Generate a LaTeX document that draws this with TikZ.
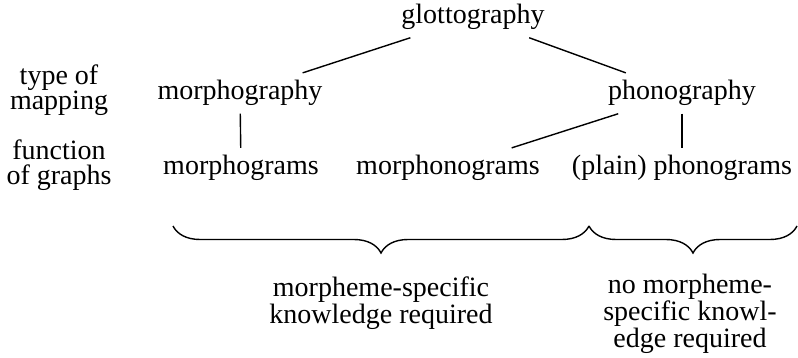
\documentclass[tikz,border=0pt]{standalone}
\usepackage{fontspec}
\setmainfont{Liberation Serif}
\usetikzlibrary{decorations.pathreplacing}

\begin{document}
\begin{tikzpicture}[
            x = 1pt, y = -1pt, % pixel grid, y going down
            line width = 1.4pt,
            every node/.style = {
                font = \fontsize{28}{25}\selectfont,
                anchor = base, % nodes sit on the baseline of their last line
                inner sep = 7pt
            },
            brace/.style = {decorate, decoration = {brace, mirror, amplitude = 27pt}}
        ]
        \useasboundingbox (0,0) rectangle (798,358);

        % side labels
        \node[align = center] (maplbl) at (59,110) {type of\\mapping};
        \node[align = center] (graphlbl) at (59,185) {function\\of graphs};

        % tree
        \node (glot) at (473,24) {glottography};
        \node (morphy) at (240,100) {morphography};
        \node (phony) at (682,100) {phonography};
        \node (morphgr) at (241,175) {morphograms};
        \node (morphon) at (448,175) {morphonograms};
        \node (phongr) at (682,175) {(plain) phonograms};

        \draw (glot) -- (morphy);
        \draw (glot) -- (phony);
        \draw (morphy) -- (morphgr);
        \draw (phony) -- (morphon);
        \draw (phony) -- (phongr);

        % braces
        \coordinate (b1) at (173,226);
        \coordinate (b2) at (589,226);
        \coordinate (b3) at (797,226);
        \draw[brace] (b1) -- (b2);
        \draw[brace] (b2) -- (b3);

        \node[align = center] (known) at (381,323) {morpheme-specific\\knowledge required};
        \node[align = center] (noknown) at (690,347) {no morpheme-\\specific knowl-\\edge required};
    \end{tikzpicture}
\end{document}
